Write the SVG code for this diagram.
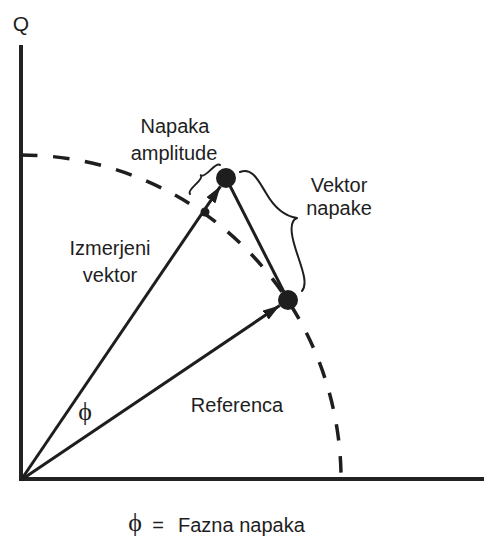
<svg xmlns="http://www.w3.org/2000/svg" width="495" height="536" viewBox="0 0 495 536">
<defs>
<style>
.t{font-family:"Liberation Sans",Arial,sans-serif;font-size:20px;fill:#1e1e1e;text-anchor:middle}
.ax{stroke:#222;stroke-width:4;fill:none}
.v{stroke:#1e1e1e;stroke-width:3;fill:none}
.br{stroke:#1e1e1e;stroke-width:2;fill:none;stroke-linecap:round}
.dot{fill:#1e1e1e}
.phi{font-family:"Liberation Serif","DejaVu Serif",serif;font-size:26px;fill:#1e1e1e;text-anchor:middle}
</style>
<marker id="ah" viewBox="0 0 17 11" refX="17" refY="5.5" markerWidth="17" markerHeight="11" markerUnits="userSpaceOnUse" orient="auto">
<path d="M0,0 L17,5.5 L0,11 z" fill="#1e1e1e"/>
</marker>
</defs>
<rect width="495" height="536" fill="#fff"/>
<g id="axes">
<path class="ax" d="M21,45 V481"/>
<path class="ax" d="M19,479 H484"/>
<text class="t" x="21" y="31" style="font-size:21px">Q</text>
</g>
<g id="arc">
<path d="M21,155 A320,325 0 0 1 341,473" pathLength="1000" fill="none" stroke="#1e1e1e" stroke-width="3.5" stroke-dasharray="33.2 31.2"/>
</g>
<g id="connectors">
<path class="v" d="M21,480 L220.4,186.3" marker-end="url(#ah)"/>
<path class="v" d="M21,480 L279.7,305.6" marker-end="url(#ah)"/>
<path class="v" d="M226,178 L288,300"/>
</g>
<g id="measured-point"><circle class="dot" cx="226" cy="178" r="10"/></g>
<g id="reference-point"><circle class="dot" cx="288" cy="300" r="10"/></g>
<g id="intersection"><circle class="dot" cx="205" cy="212" r="4.5"/></g>
<g id="amplitude-error">
<path class="br" d="M190,194 Q187.9,191.8 195.4,184.6 T200.8,175.2 M200.8,175.2 Q202.9,177.3 210.4,170.1 T220,165"/>
<text class="t" x="175" y="133">Napaka</text>
<text class="t" x="174" y="160">amplitude</text>
</g>
<g id="error-vector">
<path class="br" d="M240,172 C252,167 258,180 266,193 C274,207 283,216 297,218 M297,218 C289,221 291,234 295,247 C300,264 309,283 302,291"/>
<text class="t" x="339" y="192">Vektor</text>
<text class="t" x="339" y="215">napake</text>
</g>
<g id="measured-label">
<text class="t" x="110" y="255">Izmerjeni</text>
<text class="t" x="110" y="282">vektor</text>
</g>
<g id="reference-label">
<text class="t" x="237" y="412">Referenca</text>
</g>
<g id="phase-angle">
<text class="phi" x="85" y="420">ϕ</text>
</g>
<g id="legend">
<text class="phi" x="135" y="531">ϕ</text>
<text class="t" x="158" y="532">=</text>
<text class="t" x="178" y="532" style="text-anchor:start">Fazna napaka</text>
</g>
</svg>
